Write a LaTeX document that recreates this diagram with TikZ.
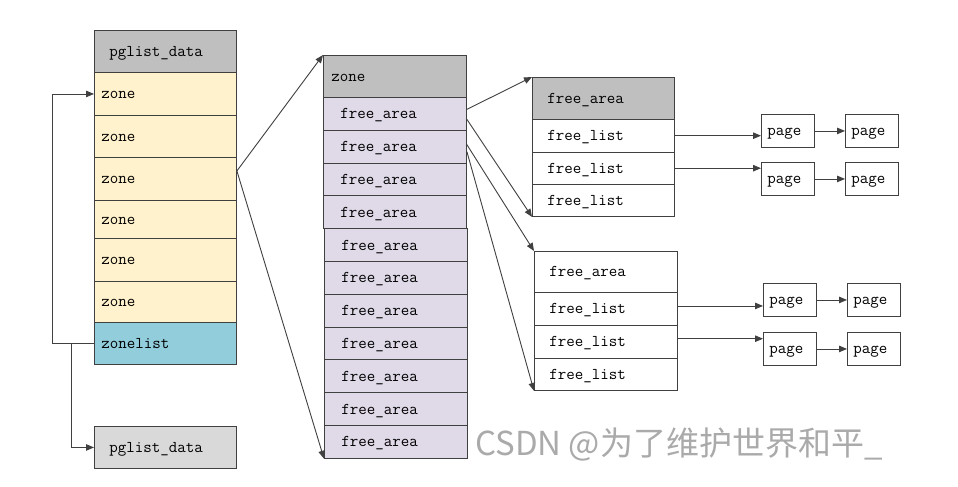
\documentclass[tikz,border=0pt]{standalone}
\usepackage{fontspec}
\newfontfamily\cjk{Noto Sans CJK SC}
\usetikzlibrary{arrows.meta}
\definecolor{hdr}{HTML}{BFBFBF}
\definecolor{zonec}{HTML}{FFF2CC}
\definecolor{zlc}{HTML}{92CDDC}
\definecolor{fac}{HTML}{DFD9E8}
\definecolor{pgtwo}{HTML}{D9D9D9}
\definecolor{linec}{HTML}{404040}
\definecolor{wmc}{HTML}{AAAAAA}
\begin{document}
\begin{tikzpicture}[x=1pt,y=-1pt,
  box/.style={draw=linec, line width=0.9pt, anchor=north west, align=left,
    inner ysep=0pt, text height=12pt, text depth=2pt,
    font=\fontsize{16.5}{18}\selectfont\ttfamily},
  lhead/.style={box, fill=hdr, text width=112pt, inner xsep=15pt, minimum height=42pt},
  lzone/.style={box, fill=zonec, text width=128pt, inner xsep=7pt, minimum height=#1},
  mhead/.style={box, fill=hdr, text width=127pt, inner xsep=8pt, minimum height=42pt},
  farow/.style={box, fill=fac, text width=109pt, inner xsep=17pt, minimum height=32.8pt},
  rrow/.style={box, fill=white, text width=112pt, inner xsep=15pt, minimum height=#1},
  brow/.style={box, fill=white, text width=113pt, inner xsep=15pt, minimum height=#1},
  pagebox/.style={box, fill=white, text width=41pt, inner xsep=6pt, minimum height=33pt},
  arr/.style={draw=linec, line width=0.9pt, -{Triangle[length=8pt,width=6.5pt]}}]
\useasboundingbox[fill=white] (0,0) rectangle (958,487);

% left column
\node[lhead] (lhd) at (94,30) {pglist\_data};
\node[lzone=43pt] (z1) at (94,72) {zone};
\node[lzone=42pt] (z2) at (94,115) {zone};
\node[lzone=43pt] (z3) at (94,157) {zone};
\node[lzone=38pt] (z4) at (94,200) {zone};
\node[lzone=43pt] (z5) at (94,238) {zone};
\node[lzone=41pt] (z6) at (94,281) {zone};
\node[lzone=42pt, fill=zlc] (zl) at (94,322) {zonelist};
\node[lhead, fill=pgtwo] (pg2) at (94,426) {pglist\_data};

% middle column
\node[mhead] (mz) at (323,55) {zone};
\node[farow] (fa1) at (323,97) {free\_area};
\node[farow] (fa2) at (323,129.8) {free\_area};
\node[farow] (fa3) at (323,162.6) {free\_area};
\node[farow] (fa4) at (323,195.4) {free\_area};
\node[farow] (fa5) at (324,228.2) {free\_area};
\node[farow] (fa6) at (324,261) {free\_area};
\node[farow] (fa7) at (324,293.8) {free\_area};
\node[farow] (fa8) at (324,326.6) {free\_area};
\node[farow] (fa9) at (324,359.4) {free\_area};
\node[farow] (fa10) at (324,392.2) {free\_area};
\node[farow] (fa11) at (324,425) {free\_area};

% right top
\node[rrow=42pt, fill=hdr] (tfa) at (532,77) {free\_area};
\node[rrow=32.5pt] (tl1) at (532,119) {free\_list};
\node[rrow=32.5pt] (tl2) at (532,151.5) {free\_list};
\node[rrow=32pt] (tl3) at (532,184) {free\_list};

% right bottom
\node[brow=41pt] (bfa) at (534,251) {free\_area};
\node[brow=33pt] (bl1) at (534,292) {free\_list};
\node[brow=32.5pt] (bl2) at (534,325) {free\_list};
\node[brow=32.5pt] (bl3) at (534,357.5) {free\_list};

% pages
\node[pagebox] (pa1) at (761,114) {page};
\node[pagebox] (pb1) at (845,114) {page};
\node[pagebox] (pa2) at (761,162) {page};
\node[pagebox] (pb2) at (845,162) {page};
\node[pagebox] (pa3) at (763,283) {page};
\node[pagebox] (pb3) at (847,283) {page};
\node[pagebox] (pa4) at (763,332) {page};
\node[pagebox] (pb4) at (847,332) {page};

% left loops
\coordinate (tap) at (71,343);
\draw[arr] (zl.west) -- ++(-42,0) |- (z1.west);
\draw[arr] (tap) |- (pg2.west);

% zone -> middle
\draw[arr] ([yshift=8pt]z3.east) -- (mz.north west);
\draw[arr] ([yshift=8pt]z3.east) -- (fa11.south west);

% free_area -> right boxes
\draw[arr] ([yshift=4.5pt]fa1.east) -- (tfa.north west);
\draw[arr] ([yshift=-5.5pt]fa1.east) -- (tl3.south west);
\draw[arr] ([yshift=2pt]fa2.east) -- (bfa.north west);
\draw[arr] ([yshift=-5pt]fa2.east) -- (bl3.south west);

% free_list -> page
\draw[arr] (tl1.east) -- (tl1.east -| pa1.west);
\draw[arr] (tl2.east) -- (tl2.east -| pa2.west);
\draw[arr] ([yshift=3pt]bl1.east) -- ([yshift=3pt]bl1.east -| pa3.west);
\draw[arr] ([yshift=3pt]bl2.east) -- ([yshift=3pt]bl2.east -| pa4.west);

% page -> page
\draw[arr] (pa1.east) -- (pb1.west);
\draw[arr] (pa2.east) -- (pb2.west);
\draw[arr] (pa3.east) -- (pb3.west);
\draw[arr] (pa4.east) -- (pb4.west);

% watermark
\node[anchor=base west, inner sep=0pt, text=wmc, font=\cjk\fontsize{33}{35}\selectfont] (wm) at (475,455) {CSDN @为了维护世界和平\_};
\end{tikzpicture}
\end{document}
